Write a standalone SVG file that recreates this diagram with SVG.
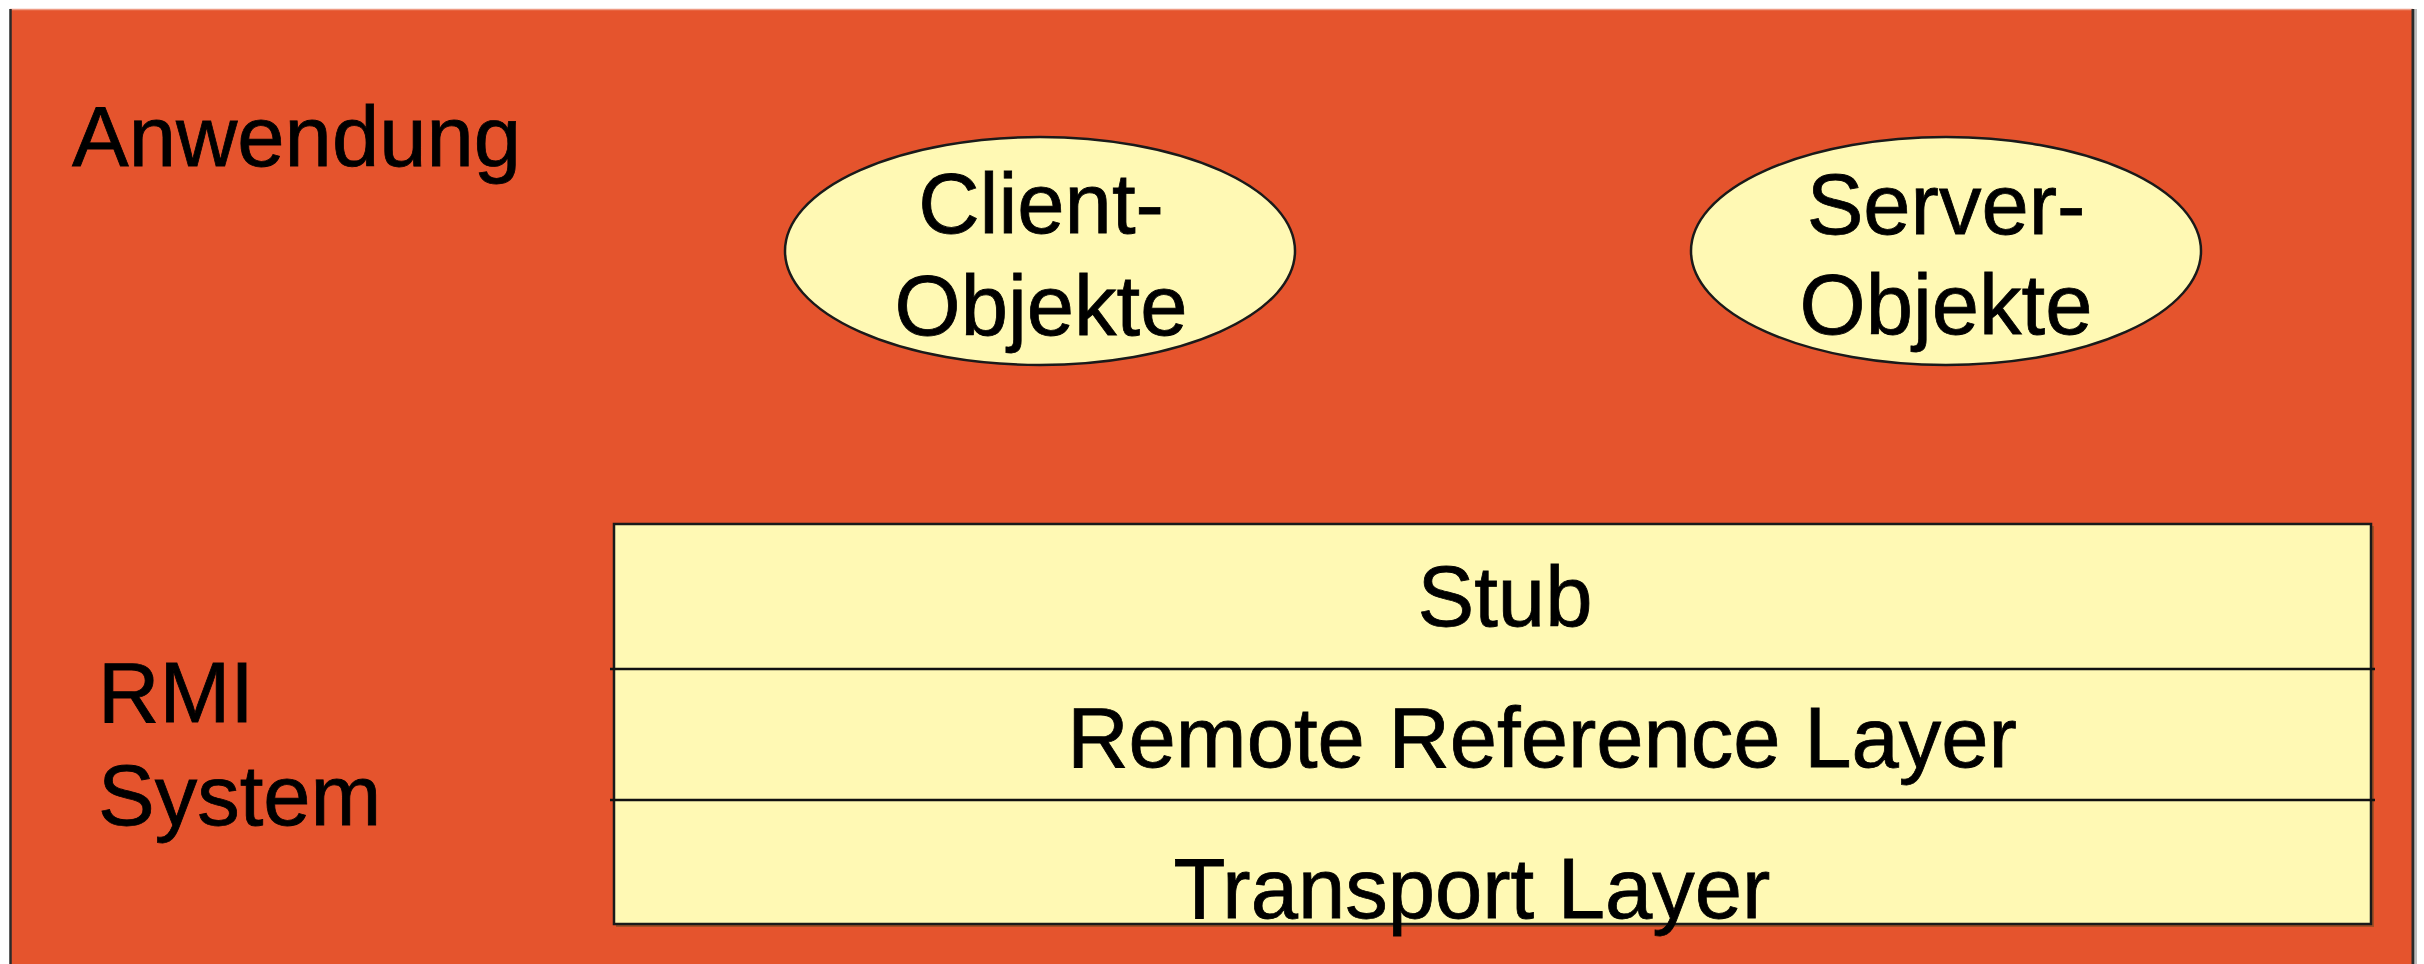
<svg xmlns="http://www.w3.org/2000/svg" width="2424" height="964" viewBox="0 0 2424 964">
  <style>
    .lbl { font-family: "Liberation Sans", Arial, sans-serif; font-size: 85px; fill: #000; stroke: #000; stroke-width: 0.8; }
    .mid { text-anchor: middle; }
    .pale { fill: #FFF9B4; stroke: #1a1a1a; stroke-width: 2.5; }
    .rule { stroke: #111; stroke-width: 2.5; fill: none; }
  </style>

  <!-- page background -->
  <rect x="0" y="0" width="2424" height="964" fill="#ffffff"/>

  <!-- orange panel -->
  <g id="panel">
    <rect x="10" y="9" width="2403" height="970" fill="#E5542D"/>
    <line x1="10" y1="9.5" x2="2413" y2="9.5" stroke="#ee9a84" stroke-width="1.5"/>
    <line x1="10.5" y1="9" x2="10.5" y2="964" stroke="#2a2a2a" stroke-width="2.5"/>
    <line x1="2413" y1="9" x2="2413" y2="964" stroke="#2a2a2a" stroke-width="3"/>
    <line x1="2416" y1="9" x2="2416" y2="964" stroke="#bdbdbd" stroke-width="2"/>
  </g>

  <!-- layer captions -->
  <g id="caption-app">
    <text class="lbl" x="72" y="166">Anwendung</text>
  </g>
  <g id="caption-rmi">
    <text class="lbl" x="98" y="722">RMI</text>
    <text class="lbl" x="98" y="825">System</text>
  </g>

  <!-- application objects -->
  <g id="client-objects">
    <ellipse class="pale" cx="1040" cy="251" rx="255" ry="114"/>
    <text class="lbl mid" x="1041" y="233">Client-</text>
    <text class="lbl mid" x="1041" y="335">Objekte</text>
  </g>
  <g id="server-objects">
    <ellipse class="pale" cx="1946" cy="251" rx="255" ry="114"/>
    <text class="lbl mid" x="1946" y="234">Server-</text>
    <text class="lbl mid" x="1946" y="334">Objekte</text>
  </g>

  <!-- RMI layer stack -->
  <g id="rmi-stack">
    <rect x="616" y="526" width="1758" height="401" fill="#6b4a1e" opacity="0.55"/>
    <rect class="pale" x="614" y="524" width="1757" height="400"/>
  </g>
  <g id="stub">
    <text class="lbl mid" x="1505" y="626">Stub</text>
  </g>
  <g id="connectors">
    <line class="rule" x1="610" y1="669" x2="2375" y2="669"/>
    <line class="rule" x1="610" y1="800" x2="2375" y2="800"/>
  </g>
  <g id="remote-reference-layer">
    <text class="lbl mid" x="1542" y="767">Remote Reference Layer</text>
  </g>
  <g id="transport-layer">
    <text class="lbl mid" x="1472" y="918">Transport Layer</text>
  </g>
</svg>
